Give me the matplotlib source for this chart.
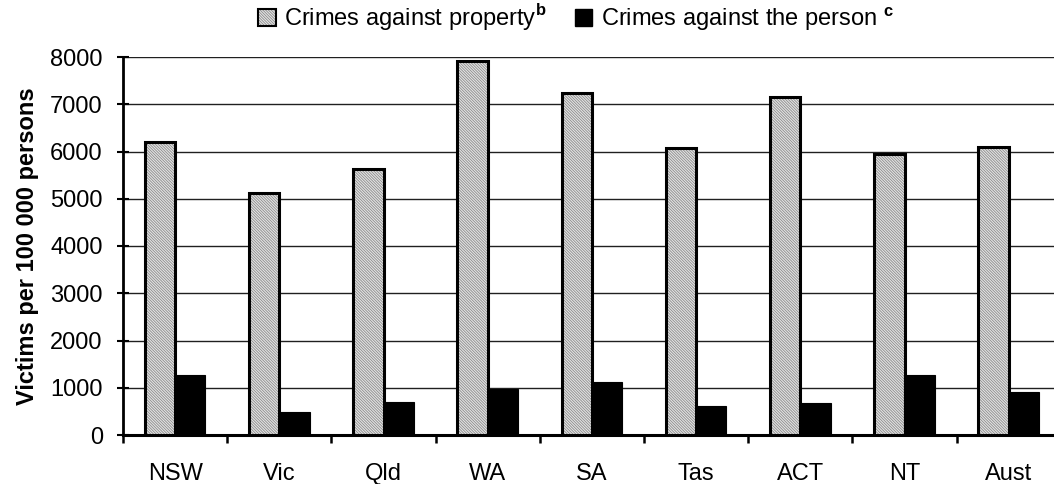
import matplotlib
matplotlib.use("Agg")
import matplotlib.pyplot as plt
import numpy as np
from matplotlib.patches import Patch
from matplotlib.legend_handler import HandlerTuple

categories = ["NSW", "Vic", "Qld", "WA", "SA", "Tas", "ACT", "NT", "Aust"]
property_crimes = [6210, 5130, 5620, 7920, 7230, 6080, 7150, 5950, 6100]
person_crimes = [1270, 480, 700, 975, 1120, 620, 680, 1270, 900]
yticks = [0, 1000, 2000, 3000, 4000, 5000, 6000, 7000, 8000]

plt.rcParams['font.family'] = ['Liberation Sans', 'DejaVu Sans']
plt.rcParams['mathtext.fontset'] = 'custom'
plt.rcParams['mathtext.rm'] = 'Liberation Sans'
plt.rcParams['mathtext.bf'] = 'Liberation Sans:bold'
plt.rcParams['hatch.linewidth'] = 0.6

FS = 17
HATCH = '\\' * 12
FACE = '#e4e4e4'
HCOL = '#8c8c8c'
W, H = 1054, 484
fig = plt.figure(figsize=(W / 100, H / 100), dpi=100)
left = 123 / W
bottom = (H - 435) / H
top = (H - 57) / H
width = 9 * 104.2 / W
ax = fig.add_axes([left, bottom, width, top - bottom])

x = np.arange(len(categories))
bw = 0.29
ax.bar(x - bw / 2, property_crimes, bw, color=FACE, hatch=HATCH,
       edgecolor=HCOL, linewidth=0, zorder=3)
ax.bar(x - bw / 2, property_crimes, bw, fill=False, edgecolor='black',
       linewidth=2.2, zorder=4)
ax.bar(x + bw / 2, person_crimes, bw, color='black', edgecolor='black',
       linewidth=0.8, zorder=3)

ax.set_xlim(-0.5, len(categories) - 0.5)
ax.set_ylim(0, 8000)
ax.set_yticks(yticks)
ax.set_yticklabels([str(v) for v in yticks])
ax.yaxis.grid(True, color='#202020', linewidth=1.0, zorder=0)
ax.set_axisbelow(True)

ax.set_xticks(np.arange(len(categories) + 1) - 0.5)
ax.set_xticklabels([])
ax.set_xticks(x, minor=True)
ax.set_xticklabels(categories, minor=True)
ax.tick_params(axis='x', which='major', direction='out', length=6, width=1.8, color='black')
ax.tick_params(axis='x', which='minor', length=0, pad=20, labelsize=FS)
ax.tick_params(axis='y', direction='inout', length=9, width=1.5, labelsize=FS, pad=10)

for s in ['top', 'right']:
    ax.spines[s].set_visible(False)
ax.spines['left'].set_linewidth(2)
ax.spines['bottom'].set_linewidth(2.2)

ax.set_ylabel("Victims per 100 000 persons", fontsize=FS, fontweight='bold', labelpad=8)

h1 = (Patch(facecolor=FACE, hatch=HATCH, edgecolor=HCOL, linewidth=0),
      Patch(fill=False, edgecolor='black', linewidth=1.5))
h2 = Patch(facecolor='black', edgecolor='black')
fig.legend([h1, h2],
           ["Crimes against property$^{\\mathbf{b}}$", "Crimes against the person $^{\\mathbf{c}}$"],
           handler_map={tuple: HandlerTuple(ndivide=1, pad=0)},
           loc='center', bbox_to_anchor=(576 / W, 1 - 17 / H), ncol=2, frameon=False,
           fontsize=FS, handlelength=0.75, handleheight=0.75, handletextpad=0.35,
           columnspacing=1.2, borderpad=0)

fig.savefig("out.png", dpi=100)
